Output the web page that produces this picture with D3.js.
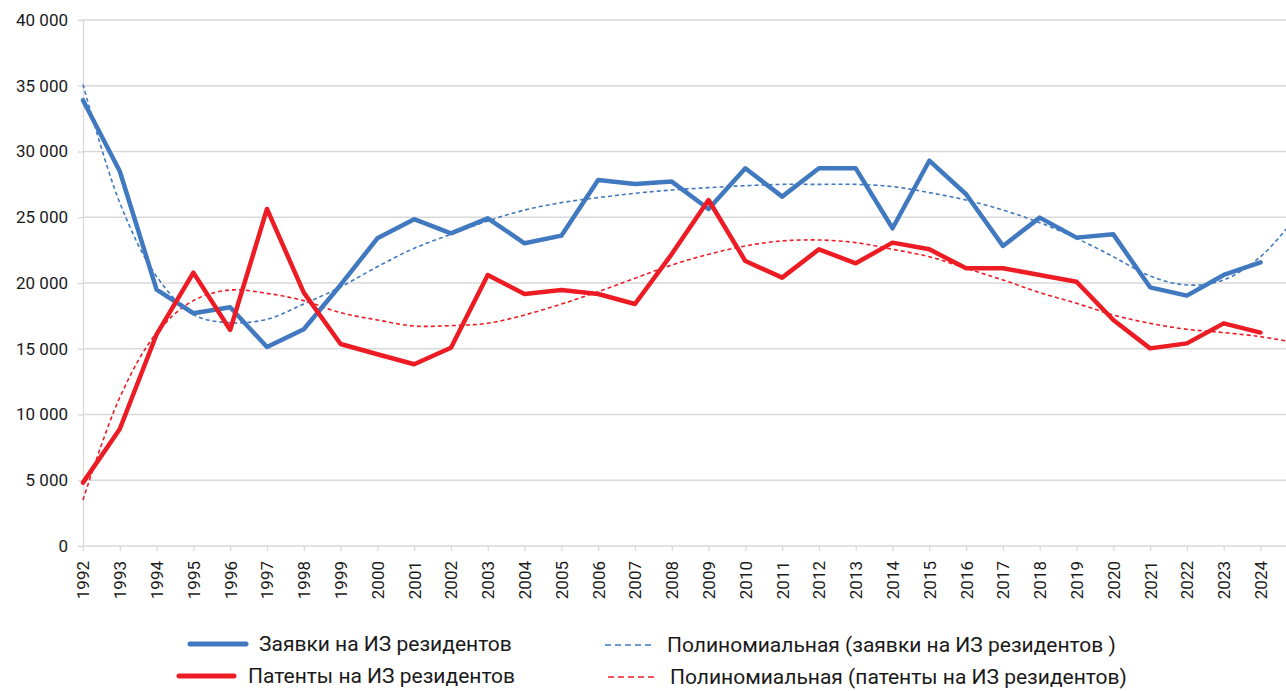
<!DOCTYPE html>
<html>
<head>
<meta charset="utf-8">
<script src="https://cdn.jsdelivr.net/npm/d3@7"></script>
<style>
  body { margin: 0; background: #fff; }
  svg { display: block; font-family: Roboto, "Noto Sans", sans-serif; }
</style>
</head>
<body>
<div class="chart"></div>
<script>
// data
var years = d3.range(1992, 2025);
var applications = [33900, 28500, 19500, 17700, 18150, 15130, 16480, 19850, 23400, 24850,
    23780, 24920, 23020, 23600, 27830, 27530, 27710, 25630, 28720, 26570,
    28720, 28720, 24160, 29300, 26750, 22820, 24970, 23450, 23700, 19670,
    19040, 20610, 21570];
var patents = [4820, 8900, 16100, 20790, 16430, 25630, 19270, 15360, 14580, 13820,
    15080, 20610, 19160, 19470, 19160, 18400, 22200, 26310, 21670, 20410,
    22560, 21500, 23070, 22560, 21120, 21120, 20610, 20100, 17190, 15030,
    15410, 16930, 16230];
// polynomial trend lines, as drawn (per year + forecast end)
var applicationsTrend = [35100, 26100, 20500, 17600, 16980, 17240, 18400, 19700, 21240, 22640,
    23700, 24720, 25550, 26110, 26490, 26820, 27070, 27250, 27400, 27500,
    27500, 27500, 27330, 26870, 26310, 25550, 24590, 23400, 22000, 20530,
    19850, 20230, 22000];
var patentsTrend = [3500, 11300, 16200, 18660, 19470, 19210, 18660, 17740, 17190, 16730,
    16760, 16940, 17570, 18400, 19340, 20360, 21370, 22180, 22820, 23200,
    23270, 23070, 22560, 22000, 21120, 20230, 19270, 18460, 17570, 16930,
    16480, 16230, 15920];
var trendEndYear = 2024.7;
var applicationsTrendEnd = 24100;
var patentsTrendEnd = 15590;
var yTicks = [0, 5000, 10000, 15000, 20000, 25000, 30000, 35000, 40000];

var legendLabels = ['Заявки на ИЗ резидентов', 'Полиномиальная (заявки на ИЗ резидентов )',
    'Патенты на ИЗ резидентов', 'Полиномиальная (патенты на ИЗ резидентов)'];

var blue = '#4079bf', red = '#ed1c24';
var width = 1286, height = 691;

var svg = d3.select('.chart').append('svg').attr('width', width).attr('height', height);

var x = d3.scaleLinear().domain([1992, 2024]).range([83, 1260.5]);
var y = d3.scaleLinear().domain([0, 40000]).range([546, 20]);
var plotRight = width;

function fmt(v) {
    return v === 0 ? '0' : d3.format(',')(v).replace(/,/g, ' ');
}

// gridlines
svg.append('g').selectAll('line')
   .data(yTicks.filter(function (d) { return d > 0; }))
   .enter().append('line')
   .attr('x1', x(1992)).attr('x2', plotRight)
   .attr('y1', function (d) { return y(d); })
   .attr('y2', function (d) { return y(d); })
   .attr('stroke', '#d9d9d9').attr('stroke-width', 1.3);

// y axis
var yAxis = svg.append('g')
   .attr('transform', 'translate(' + x(1992) + ',0)')
   .call(d3.axisLeft(y).tickValues(yTicks).tickFormat(fmt).tickSize(5).tickPadding(10));
yAxis.select('.domain').attr('stroke', '#d9d9d9').attr('stroke-width', 1.3);
yAxis.selectAll('.tick line').attr('stroke', '#d9d9d9').attr('stroke-width', 1.3);
yAxis.selectAll('text').attr('font-size', 17).attr('fill', '#1a1a1a')
   .attr('font-family', 'Roboto, sans-serif');

// x axis
var xAxis = svg.append('g')
   .attr('transform', 'translate(0,' + y(0) + ')')
   .call(d3.axisBottom(x).tickValues(years).tickFormat(d3.format('d')).tickSize(5).tickSizeOuter(0));
xAxis.select('.domain').attr('d', 'M' + x(1992) + ',0H' + plotRight)
   .attr('stroke', '#d9d9d9').attr('stroke-width', 1.3);
xAxis.selectAll('.tick line').attr('stroke', '#d9d9d9').attr('stroke-width', 1.3);
xAxis.selectAll('text')
   .attr('font-size', 17).attr('fill', '#1a1a1a').attr('font-family', 'Roboto, sans-serif')
   .attr('transform', 'rotate(-90)')
   .attr('text-anchor', 'end')
   .attr('x', -15).attr('y', 0).attr('dy', '0.35em');

// series lines
var line = d3.line()
    .x(function (d) { return x(d[0]); })
    .y(function (d) { return y(d[1]); });

var trendLine = d3.line()
    .x(function (d) { return x(d[0]); })
    .y(function (d) { return y(d[1]); })
    .curve(d3.curveCatmullRom.alpha(0.5));

function pairs(values) {
    return values.map(function (v, i) { return [years[i], v]; });
}

svg.append('path')
   .datum(pairs(applicationsTrend).concat([[trendEndYear, applicationsTrendEnd]]))
   .attr('d', trendLine).attr('fill', 'none')
   .attr('stroke', blue).attr('stroke-width', 1.6).attr('stroke-dasharray', '4,3');

svg.append('path')
   .datum(pairs(patentsTrend).concat([[trendEndYear, patentsTrendEnd]]))
   .attr('d', trendLine).attr('fill', 'none')
   .attr('stroke', red).attr('stroke-width', 1.6).attr('stroke-dasharray', '4,3');

svg.append('path')
   .datum(pairs(applications))
   .attr('d', line).attr('fill', 'none')
   .attr('stroke', blue).attr('stroke-width', 4.5)
   .attr('stroke-linejoin', 'round').attr('stroke-linecap', 'round');

svg.append('path')
   .datum(pairs(patents))
   .attr('d', line).attr('fill', 'none')
   .attr('stroke', red).attr('stroke-width', 4.5)
   .attr('stroke-linejoin', 'round').attr('stroke-linecap', 'round');

// legend
var legendItems = [
    { label: legendLabels[0], color: blue, dashed: false, x1: 190, x2: 246, tx: 259, ty: 644 },
    { label: legendLabels[1], color: blue, dashed: true, x1: 605, x2: 655, tx: 667, ty: 645 },
    { label: legendLabels[2], color: red, dashed: false, x1: 179, x2: 234, tx: 248, ty: 676 },
    { label: legendLabels[3], color: red, dashed: true, x1: 608, x2: 658, tx: 670, ty: 677 }
];

var legend = svg.append('g').selectAll('g').data(legendItems).enter().append('g');
legend.append('line')
   .attr('x1', function (d) { return d.x1; })
   .attr('x2', function (d) { return d.x2; })
   .attr('y1', function (d) { return d.ty; })
   .attr('y2', function (d) { return d.ty; })
   .attr('stroke', function (d) { return d.color; })
   .attr('stroke-width', function (d) { return d.dashed ? 1.6 : 5; })
   .attr('stroke-linecap', function (d) { return d.dashed ? 'butt' : 'round'; })
   .attr('stroke-dasharray', function (d) { return d.dashed ? '6,4' : null; });
legend.append('text')
   .attr('x', function (d) { return d.tx; })
   .attr('y', function (d) { return d.ty; })
   .attr('dy', '0.35em')
   .attr('font-size', 21).attr('fill', '#1a1a1a')
   .text(function (d) { return d.label; });
</script>
</body>
</html>
